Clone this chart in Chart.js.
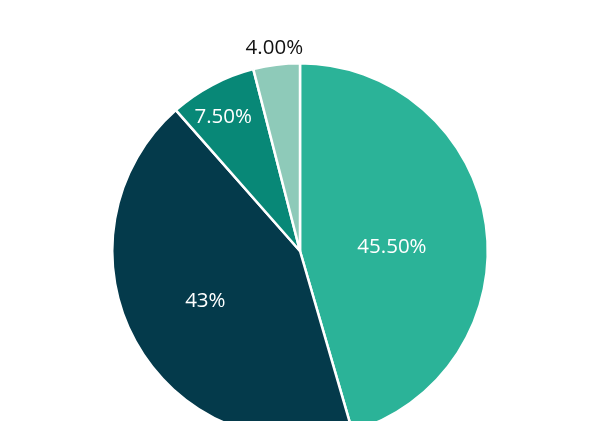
<!DOCTYPE html>
<html>
<head>
<meta charset="utf-8">
<script src="https://cdn.jsdelivr.net/npm/chart.js@4"></script>
<style>
html,body{margin:0;padding:0;background:#fff;overflow:hidden;}
#wrap{width:600px;height:421px;overflow:hidden;}
#box{width:600px;height:440px;}
</style>
</head>
<body>
<div id="wrap"><div id="box"><canvas id="c"></canvas></div></div>
<script>
const categories = ['A', 'B', 'C', 'D'];
const values = [45.5, 43, 7.5, 4];
const valueLabels = ['45.50%', '43%', '7.50%', '4.00%'];
const colors = ['#2bb398', '#043a4b', '#088877', '#8ecab9'];
const labelColors = ['#ffffff', '#ffffff', '#ffffff', '#111111'];
const labelRadius = [0.49, 0.57, 0.82, 1.09];
const labelAngleShift = [6, 1, -2, 0];

const labelPlugin = {
  id: 'sliceLabels',
  afterDatasetsDraw(chart) {
    const ctx = chart.ctx;
    const meta = chart.getDatasetMeta(0);
    ctx.save();
    ctx.font = '400 20.5px "Open Sans", sans-serif';
    ctx.textAlign = 'center';
    ctx.textBaseline = 'middle';
    meta.data.forEach((arc, i) => {
      const p = arc.getProps(['x','y','startAngle','endAngle','outerRadius'], true);
      const mid = (p.startAngle + p.endAngle) / 2 + labelAngleShift[i] * Math.PI / 180;
      const r = p.outerRadius * labelRadius[i];
      ctx.fillStyle = labelColors[i];
      ctx.fillText(valueLabels[i], p.x + Math.cos(mid) * r, p.y + Math.sin(mid) * r);
    });
    ctx.restore();
  }
};

new Chart(document.getElementById('c'), {
  type: 'pie',
  data: {
    labels: categories,
    datasets: [{
      data: values,
      backgroundColor: colors,
      borderColor: '#ffffff',
      borderWidth: 2.5
    }]
  },
  options: {
    responsive: true,
    maintainAspectRatio: false,
    animation: false,
    layout: { padding: { top: 62, bottom: 0, left: 0, right: 0 } },
    plugins: { legend: { display: false }, tooltip: { enabled: false } }
  },
  plugins: [labelPlugin]
});
</script>
</body>
</html>
